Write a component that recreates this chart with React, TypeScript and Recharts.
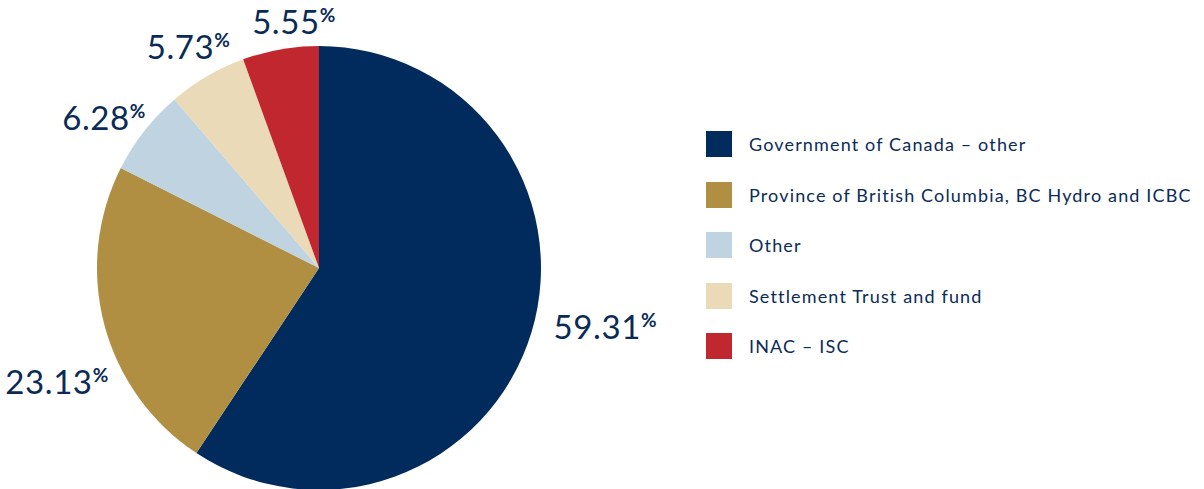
import { Legend, Pie, PieChart, Cell } from 'recharts';

const categories = [
  'Government of Canada – other',
  'Province of British Columbia, BC Hydro and ICBC',
  'Other',
  'Settlement Trust and fund',
  'INAC – ISC',
];
const shares = [59.31, 23.13, 6.28, 5.73, 5.55];

const colors = ['#002B5C', '#B08E42', '#BFD3E1', '#EADAB7', '#C1272F'];
// small hand nudges so the labels sit where the original put them
const labelNudge = [
  { dx: -1, dy: -13 },
  { dx: 27, dy: 50 },
  { dx: 20, dy: 1 },
  { dx: 35, dy: -10 },
  { dx: 59, dy: -5 },
];

const NAVY = '#0B2B57';
const RAD = Math.PI / 180;

const data = categories.map((name, i) => ({ name, value: shares[i] }));

function renderLabel(props: any) {
  const { cx, cy, midAngle, outerRadius, index, value } = props;
  const r = outerRadius + 24;
  const x = cx + r * Math.cos(-midAngle * RAD);
  const y = cy + r * Math.sin(-midAngle * RAD);
  const right = x > cx;
  const n = labelNudge[index];
  return (
    <text
      x={x + n.dx}
      y={y + n.dy}
      fill={NAVY}
      textAnchor={right ? 'start' : 'end'}
      dominantBaseline='central'
      fontFamily='Lato, sans-serif'
      fontSize={33}
      letterSpacing={0.6}
    >
      {value.toFixed(2)}
      <tspan fontSize={19} dy={-7} fontWeight={700} letterSpacing={0}>
        %
      </tspan>
    </text>
  );
}

function LegendList() {
  return (
    <div>
      {data.map((d, i) => (
        <div key={d.name} style={{ display: 'flex', alignItems: 'center', height: 50.5 }}>
          <span style={{ width: 26, height: 26, background: colors[i], display: 'inline-block' }} />
          <span
            style={{
              marginLeft: 17,
              color: NAVY,
              fontFamily: 'Lato, sans-serif',
              fontSize: 18,
              letterSpacing: 1.15,
              whiteSpace: 'nowrap',
            }}
          >
            {d.name}
          </span>
        </div>
      ))}
    </div>
  );
}

export default function App() {
  return (
    <div style={{ position: 'absolute', left: 0, top: 0, background: '#fff' }}>
      <PieChart width={1204} height={489} margin={{ top: 0, right: 0, bottom: 0, left: 0 }}>
        <Pie
          data={data}
          dataKey='value'
          nameKey='name'
          cx={319}
          cy={268}
          outerRadius={222}
          startAngle={90}
          endAngle={-270}
          stroke='none'
          label={renderLabel}
          labelLine={false}
          isAnimationActive={false}
        >
          {data.map((d, i) => (
            <Cell key={d.name} fill={colors[i]} />
          ))}
        </Pie>
        <Legend
          layout='vertical'
          content={<LegendList />}
          wrapperStyle={{ left: 706, top: 119, width: 498 }}
        />
      </PieChart>
    </div>
  );
}
